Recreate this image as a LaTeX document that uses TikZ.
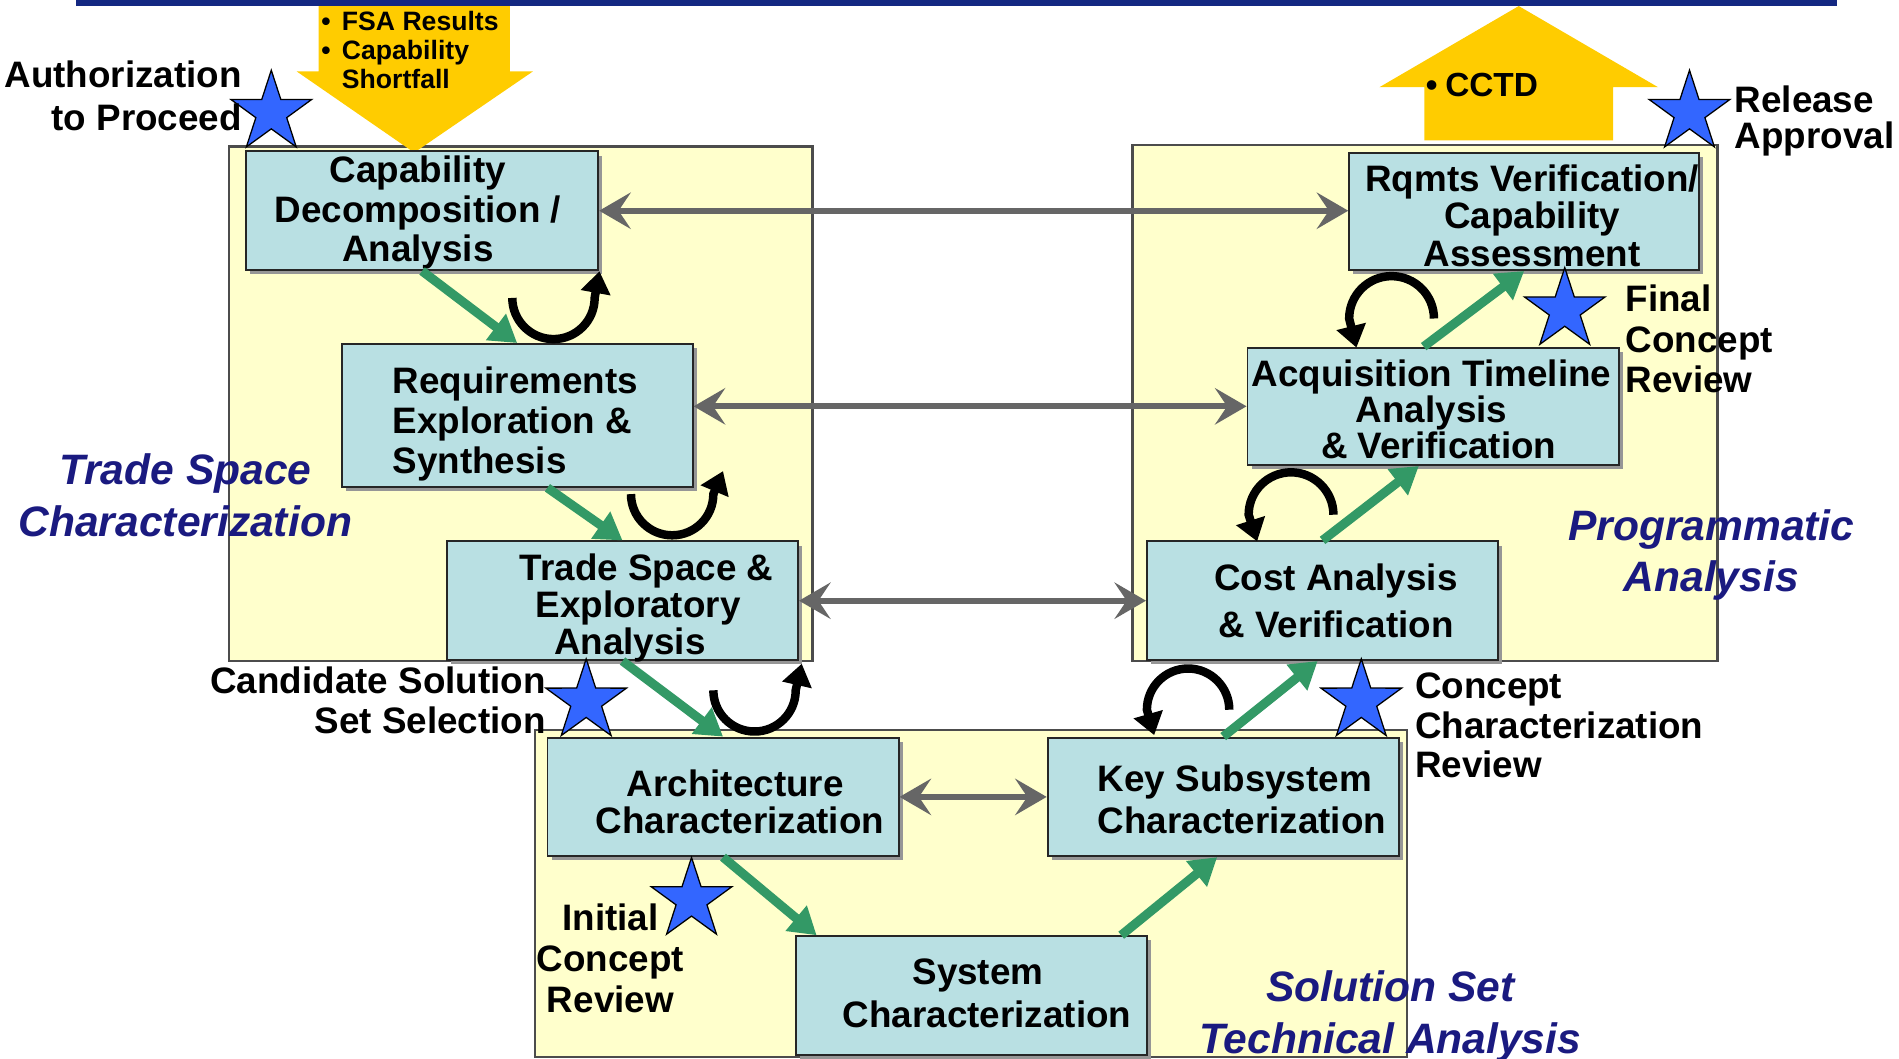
\documentclass[tikz,border=0pt]{standalone}
\usepackage{fontspec}
\setmainfont{Liberation Sans}
\usetikzlibrary{arrows.meta,shapes.geometric,calc,shadows}
\definecolor{navyline}{RGB}{20,40,130}
\definecolor{navytxt}{RGB}{26,26,128}
\definecolor{boxfill}{RGB}{185,224,227}
\definecolor{regfill}{RGB}{255,255,204}
\definecolor{greenarr}{RGB}{51,153,102}
\definecolor{yellowarr}{RGB}{255,204,0}
\definecolor{starblue}{RGB}{51,102,255}
\definecolor{grayarr}{RGB}{102,102,102}
\definecolor{shadowgray}{RGB}{150,150,150}
\tikzset{
 bstar/.pic={\path[draw=black, line width=0.6pt, fill=starblue]
   (-90:35) -- (-54:13.4) -- (-18:35) -- (18:13.4) -- (54:35) -- (90:13.4)
   -- (126:35) -- (162:13.4) -- (198:35) -- (234:13.4) -- cycle;}
}
\begin{document}
\begin{tikzpicture}[x=0.02cm, y=-0.02cm,
 region/.style={draw=black!70, line width=1.1pt, fill=regfill},
 stepbox/.style={draw=black!85, line width=0.9pt, fill=boxfill, inner sep=0pt,
   drop shadow={shadow xshift=0.07cm, shadow yshift=-0.07cm, fill=shadowgray, opacity=1}},
 boxtext/.style={inner sep=0pt, align=center, font=\fontsize{17.3}{18.7}\selectfont\bfseries},
 lbl/.style={inner sep=0pt, font=\fontsize{17.3}{19}\selectfont\bfseries},
 phase/.style={inner sep=0pt, align=center, text=navytxt, font=\fontsize{20}{24.4}\selectfont\bfseries\itshape},
 twoway/.style={draw=grayarr, line width=0.1cm,
   arrows={Stealth[length=0.52cm,width=0.6cm,inset=0.2cm]-Stealth[length=0.52cm,width=0.6cm,inset=0.2cm]}},
 grnarr/.style={draw=greenarr, line width=0.15cm, arrows={-Triangle[length=0.44cm,width=0.52cm]}},
 cyclearr/.style={draw=black, line width=0.14cm, arrows={-Triangle[length=0.36cm,width=0.48cm]}}
]
\useasboundingbox (0,0) rectangle (1568,874);

% top line
\fill[navyline] (63,0) rectangle (1517,5);

% regions
\draw[region] (189,121) rectangle (671,546);
\draw[region] (935,120) rectangle (1418,546);
\draw[region] (442,603) rectangle (1162,873);

% yellow arrows
\fill[yellowarr] (263,5) -- (421,5) -- (421,59) -- (440,59) -- (342,126) -- (245,59) -- (263,59) -- cycle;
\fill[yellowarr] (1254,5) -- (1369,72) -- (1332,72) -- (1332,116) -- (1176,116) -- (1176,72) -- (1139,72) -- cycle;
\node[inner sep=0pt, anchor=west, align=left, font=\fontsize{12.5}{13.6}\selectfont\bfseries] (fsa) at (265,41)
  {\makebox[0.34cm][l]{\textbullet}FSA Results\\\makebox[0.34cm][l]{\textbullet}Capability\\\hspace*{0.34cm}Shortfall};
\node[inner sep=0pt, anchor=west, font=\fontsize{15.7}{17}\selectfont\bfseries] (cctd) at (1177,70)
  {\makebox[0.32cm][l]{\textbullet}CCTD};

% boxes
\node[stepbox, minimum width=5.82cm, minimum height=1.96cm] (b1) at (348.5,174) {};
\node[stepbox, minimum width=5.8cm, minimum height=2.36cm] (b2) at (427,343) {};
\node[stepbox, minimum width=5.8cm, minimum height=1.96cm] (b3) at (514,496) {};
\node[stepbox, minimum width=5.78cm, minimum height=1.94cm] (b4) at (1258.5,174.5) {};
\node[stepbox, minimum width=6.14cm, minimum height=1.94cm] (b5) at (1183.5,335.5) {};
\node[stepbox, minimum width=5.8cm, minimum height=1.96cm] (b6) at (1092,496) {};
\node[stepbox, minimum width=5.8cm, minimum height=1.96cm] (b7) at (597,658) {};
\node[stepbox, minimum width=5.8cm, minimum height=1.96cm] (b8) at (1010,658) {};
\node[stepbox, minimum width=5.8cm, minimum height=1.96cm] (b9) at (802,822) {};

% box texts
\node[boxtext] (t1) at (345,175.5) {Capability\\Decomposition /\\Analysis};
\node[boxtext, align=left] (t2) at (425.5,350) {Requirements\\Exploration \&\\Synthesis};
\node[boxtext, font=\fontsize{17.3}{17.6}\selectfont\bfseries] (t3) at (527,502)
  {\hspace*{0.28cm}Trade Space \&\\Exploratory\\Analysis\hspace*{0.28cm}};
\node[boxtext, font=\fontsize{17.3}{17.6}\selectfont\bfseries] (t4) at (1265,178) {Rqmts Verification/\\Capability\\Assessment};
\node[boxtext, font=\fontsize{17.3}{17}\selectfont\bfseries] (t5) at (1182,338) {Acquisition Timeline\\Analysis\\\hspace*{0.24cm}\& Verification};
\node[boxtext, font=\fontsize{17.3}{22}\selectfont\bfseries] (t6) at (1103,496) {Cost Analysis\\\& Verification};
\node[boxtext, font=\fontsize{17.3}{17.6}\selectfont\bfseries] (t7) at (611,662) {Architecture\hspace*{0.16cm}\\Characterization};
\node[boxtext, align=left, font=\fontsize{17.3}{19.3}\selectfont\bfseries] (t8) at (1025.5,660) {Key Subsystem\\Characterization};
\node[boxtext, font=\fontsize{17.3}{20.4}\selectfont\bfseries] (t9) at (815,820) {System\hspace*{0.3cm}\\Characterization};

% gray two-way arrows
\draw[twoway] (b1.east) -- (b1.east -| b4.west);
\draw[twoway] (b2.east |- b5.west) -- (b5.west);
\draw[twoway] (b3.east) -- (b6.west);
\draw[twoway] (b7.east) -- (b8.west);

% green arrows
\draw[grnarr] (b1.south) -- (b2.north);
\draw[grnarr] ($(b2.south)+(25,0)$) -- (b3.north);
\draw[grnarr] (b3.south) -- (b7.north);
\draw[grnarr] (b7.south) -- ($(b9.north west)+(18,0)$);
\draw[grnarr] ($(b9.north east)+(-22,0)$) -- ($(b8.south)+(-5,0)$);
\draw[grnarr] (b8.north) -- ($(b6.south)+(-4,0)$);
\draw[grnarr] (b6.north) -- ($(b5.south)+(-12,0)$);
\draw[grnarr] ($(b5.north)+(-8,0)$) -- (b4.south);

% cycle arrows
\draw[cyclearr] (423,246) arc[start angle=180, end angle=0, radius=34] -- (495,224);
\draw[cyclearr] (521,408) arc[start angle=180, end angle=0, radius=34] -- (597,389);
\draw[cyclearr] (589,570) arc[start angle=180, end angle=0, radius=34] -- (662,548);
\draw[cyclearr] (1184,263) arc[start angle=0, end angle=-180, radius=35] -- (1120,287);
\draw[cyclearr] (1101,425) arc[start angle=0, end angle=-180, radius=35] -- (1038,447);
\draw[cyclearr] (1015,586) arc[start angle=0, end angle=-180, radius=34] -- (953,607);

% stars
\pic at (224,93) {bstar};
\pic at (1395,93) {bstar};
\pic at (1292,256) {bstar};
\pic at (484,579) {bstar};
\pic at (1124,579) {bstar};
\pic at (571,743) {bstar};

% labels
\node[lbl, anchor=east, align=right, font=\fontsize{17.3}{20.4}\selectfont\bfseries] (l1) at (200,79) {Authorization\\to Proceed};
\node[lbl, anchor=west, align=left, font=\fontsize{17.3}{17}\selectfont\bfseries] (l2) at (1432,100) {Release\\Approval};
\node[lbl, anchor=west, align=left] (l3) at (1342,280) {Final\\Concept\\Review};
\node[lbl, anchor=east, align=right, font=\fontsize{17.3}{18.7}\selectfont\bfseries] (l4) at (451,578) {Candidate Solution\\Set Selection};
\node[lbl, anchor=west, align=left, font=\fontsize{17.3}{18.7}\selectfont\bfseries] (l5) at (1168,599) {Concept\\Characterization\\Review};
\node[lbl, align=center, font=\fontsize{17.3}{19.3}\selectfont\bfseries] (l6) at (504,791) {Initial\\Concept\\Review};

% phase labels
\node[phase] (p1) at (153,409) {Trade Space\\Characterization};
\node[phase, font=\fontsize{20}{23.8}\selectfont\bfseries\itshape] (p2) at (1413,458) {Programmatic\\Analysis};
\node[phase] (p3) at (1148,839) {Solution Set\\Technical Analysis};
\end{tikzpicture}
\end{document}
